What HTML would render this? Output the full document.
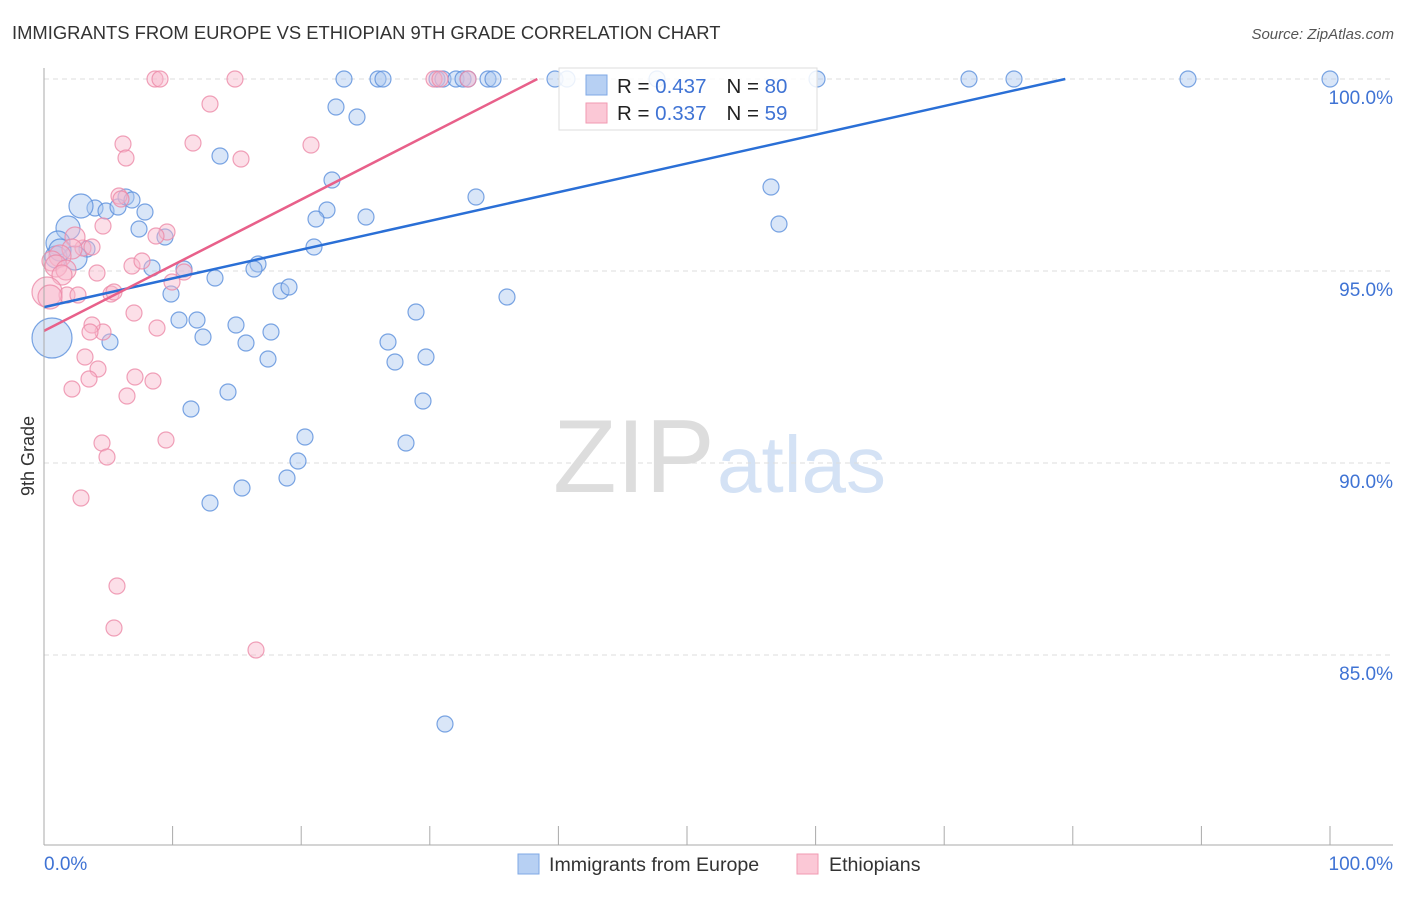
<!DOCTYPE html>
<html><head><meta charset="utf-8"><style>
body{margin:0;background:#fff;font-family:"Liberation Sans",sans-serif}
svg text{font-family:"Liberation Sans",sans-serif}
</style></head><body>
<svg width="1406" height="892" viewBox="0 0 1406 892">
<text x="12" y="39" font-size="18.4" fill="#333">IMMIGRANTS FROM EUROPE VS ETHIOPIAN 9TH GRADE CORRELATION CHART</text>
<text x="1394" y="39" font-size="15" fill="#555" text-anchor="end" font-style="italic">Source: ZipAtlas.com</text>
<text x="553" y="492" font-size="104" fill="#ddd" font-family="Liberation Serif, serif">ZIP</text>
<text x="717" y="492" font-size="80" fill="#d4e2f5">atlas</text>
<text transform="translate(34,456) rotate(-90)" font-size="18" fill="#333" text-anchor="middle">9th Grade</text>
<g id="grid"></g>
<g id="pts"></g>
<g id="lines"></g>
<line x1="44" y1="68" x2="44" y2="845" stroke="#aaa"/>
<line x1="44" y1="845" x2="1393" y2="845" stroke="#aaa"/>
<g id="xt"></g>
<text x="44" y="870" font-size="19" fill="#3f73d4">0.0%</text>
<text x="1393" y="870" font-size="19" fill="#3f73d4" text-anchor="end">100.0%</text>
<g>
<rect x="559" y="68" width="258" height="62" fill="#fff" fill-opacity="0.85" stroke="#ddd"/>
<rect x="586" y="75" width="21" height="20" fill="#b7d0f3" stroke="#7fa8e6"/>
<rect x="586" y="103" width="21" height="20" fill="#fbc8d6" stroke="#f09ab2"/>
<text x="617" y="93" font-size="20.5" fill="#222">R = <tspan fill="#3f73d4">0.437</tspan><tspan dx="20">N = </tspan><tspan fill="#3f73d4">80</tspan></text>
<text x="617" y="120" font-size="20.5" fill="#222">R = <tspan fill="#3f73d4">0.337</tspan><tspan dx="20">N = </tspan><tspan fill="#3f73d4"> 59</tspan></text>
</g>
<g>
<rect x="518" y="854" width="21" height="20" fill="#b7d0f3" stroke="#7fa8e6"/>
<text x="549" y="871" font-size="19.6" fill="#333">Immigrants from Europe</text>
<rect x="797" y="854" width="21" height="20" fill="#fbc8d6" stroke="#f09ab2"/>
<text x="829" y="871" font-size="19.6" fill="#333">Ethiopians</text>
</g>
</svg>
<script>
const yTicks=[100,95,90,85];
const xTickVals=[0,10,20,30,40,50,60,70,80,90,100];
const bluePx=[[344,79],[378,79],[383,79],[437,79],[443,79],[456,79],[463,79],[468,79],[488,79],[493,79],[555,79],[567,79],[657,79],[817,79],[969,79],[1014,79],[1188,79],[1330,79],[336,107],[357,117],[220,156],[332,180],[476,197],[771,187],[779,224],[95,208],[106,211],[118,207],[126,197],[132,200],[145,212],[139,229],[165,237],[87,249],[327,210],[316,219],[366,217],[314,247],[258,264],[254,269],[184,269],[152,268],[215,278],[171,294],[281,291],[289,287],[507,297],[179,320],[197,320],[236,325],[271,332],[203,337],[416,312],[246,343],[388,342],[110,342],[268,359],[395,362],[426,357],[228,392],[191,409],[423,401],[305,437],[406,443],[298,461],[287,478],[242,488],[210,503],[445,724]];
const blueBig=[[81,206,12],[68,228,12],[58,243,12],[75,258,12],[56,257,11],[60,250,11],[52,338,20]];
const pinkPx=[[155,79],[160,79],[235,79],[434,79],[440,79],[468,79],[210,104],[123,144],[126,158],[193,143],[311,145],[241,159],[119,196],[121,199],[167,232],[156,236],[103,226],[83,248],[92,247],[97,273],[132,266],[142,261],[184,272],[172,282],[111,294],[114,292],[67,295],[78,295],[134,313],[157,328],[103,332],[92,325],[90,332],[85,357],[98,369],[135,377],[153,381],[89,379],[72,389],[127,396],[102,443],[107,457],[166,440],[81,498],[117,586],[114,628],[256,650]];
const pinkBig=[[75,237,10],[72,249,10],[60,256,11],[52,261,10],[56,266,11],[66,270,10],[62,275,10],[47,292,15],[50,297,12]];
const X0=44,XS=12.86,Y0=79,YS=38.4;
const blueData=bluePx.map(p=>[(p[0]-X0)/XS,100-(p[1]-Y0)/YS,8]).concat(blueBig.map(p=>[(p[0]-X0)/XS,100-(p[1]-Y0)/YS,p[2]]));
const pinkData=pinkPx.map(p=>[(p[0]-X0)/XS,100-(p[1]-Y0)/YS,8]).concat(pinkBig.map(p=>[(p[0]-X0)/XS,100-(p[1]-Y0)/YS,p[2]]));
const blueFit=[94.06,0.0748];
const pinkFit=[93.44,0.171];
const sx=v=>X0+v*XS, sy=v=>Y0+(100-v)*YS;
const NS="http://www.w3.org/2000/svg";
function mk(t,a,parent){const e=document.createElementNS(NS,t);for(const k in a)e.setAttribute(k,a[k]);document.getElementById(parent).appendChild(e);return e;}
yTicks.forEach(v=>{
 const l=mk('line',{x1:44,x2:1393,y1:sy(v),y2:sy(v),stroke:'#ddd','stroke-dasharray':'5,4'},'grid');
 
 
 const t=mk('text',{x:1393,y:sy(v)+25,'font-size':19,fill:'#3f73d4','text-anchor':'end'},'grid');
 t.textContent=v.toFixed(1)+'%';
 
 
});
xTickVals.forEach(v=>{
 const l=mk('line',{x1:sx(v),x2:sx(v),y1:826,y2:845,stroke:'#aaa'},'xt');
 
 
});
function draw(data,fill,stroke,name){
 data.forEach(d=>{
  const c=mk('circle',{cx:sx(d[0]),cy:sy(d[1]),r:d[2],fill:fill,'fill-opacity':0.45,stroke:stroke,'stroke-width':1.2,'stroke-opacity':0.8},'pts');
  
  
 });
}
draw(blueData,'#aac8f0','#5a8fdc','point-europe');
draw(pinkData,'#f8b8cb','#ec8aa8','point-ethiopian');
function fit(f,color,name){
 const xEnd=Math.min(100,(100-f[0])/f[1]);
 const l=mk('line',{x1:sx(0),y1:sy(f[0]),x2:sx(xEnd),y2:sy(f[0]+f[1]*xEnd),stroke:color,'stroke-width':2.5},'lines');
 
 
}
fit(blueFit,'#2a6fd6','trend-line-europe');
fit(pinkFit,'#e8608a','trend-line-ethiopian');
</script>
</body></html>
